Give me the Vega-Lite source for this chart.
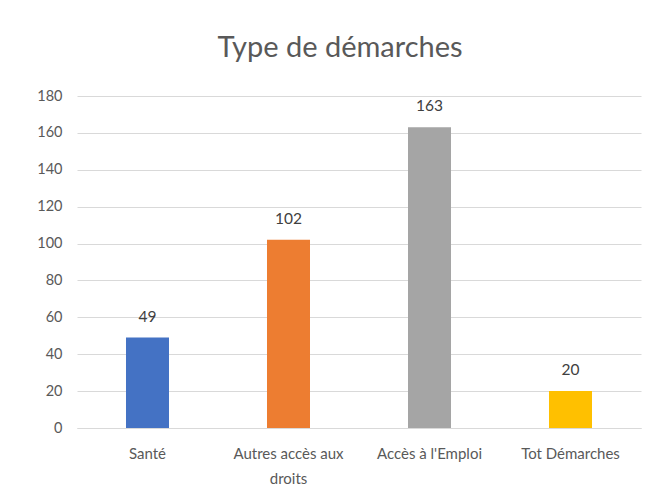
{
  "$schema": "https://vega.github.io/schema/vega-lite/v6.json",
  "autosize": {"type": "none"},
  "width": 564,
  "height": 332,
  "padding": {"left": 77, "top": 96, "right": 12, "bottom": 74},
  "background": "white",
  "config": {
    "view": {"stroke": null},
    "font": "Lato"
  },
  "title": {
    "text": "Type de démarches",
    "fontSize": 29,
    "fontWeight": "normal",
    "color": "#595959",
    "font": "Lato",
    "anchor": "middle",
    "dx": -19,
    "offset": 25
  },
  "data": {
    "values": [
      {"categorie": "Santé", "valeur": 49},
      {"categorie": "Autres accès aux droits", "valeur": 102},
      {"categorie": "Accès à l'Emploi", "valeur": 163},
      {"categorie": "Tot Démarches", "valeur": 20}
    ]
  },
  "encoding": {
    "x": {
      "field": "categorie",
      "type": "nominal",
      "sort": null,
      "scale": {"paddingInner": 0.695, "paddingOuter": 0.3475},
      "axis": {
        "title": null,
        "labelAngle": 0,
        "labelFontSize": 15,
        "labelColor": "#595959",
        "labelPadding": 18,
        "labelLimit": 0,
        "labelLineHeight": 25,
        "labelExpr": "datum.label == 'Autres accès aux droits' ? ['Autres accès aux', 'droits'] : datum.label",
        "ticks": false,
        "domainColor": "#D9D9D9",
        "domainWidth": 1
      }
    },
    "y": {
      "field": "valeur",
      "type": "quantitative",
      "scale": {"domain": [0, 180], "nice": false},
      "axis": {
        "title": null,
        "values": [0, 20, 40, 60, 80, 100, 120, 140, 160, 180],
        "labelFontSize": 14.5,
        "labelColor": "#595959",
        "labelPadding": 15,
        "ticks": false,
        "domain": false,
        "gridColor": "#D9D9D9",
        "gridWidth": 1
      }
    }
  },
  "layer": [
    {
      "mark": {"type": "bar"},
      "encoding": {
        "color": {
          "field": "categorie",
          "type": "nominal",
          "sort": null,
          "scale": {
            "domain": ["Santé", "Autres accès aux droits", "Accès à l'Emploi", "Tot Démarches"],
            "range": ["#4472C4", "#ED7D31", "#A5A5A5", "#FFC000"]
          },
          "legend": null
        }
      }
    },
    {
      "mark": {"type": "text", "baseline": "alphabetic", "dy": -16, "fontSize": 15.5, "color": "#404040"},
      "encoding": {
        "text": {"field": "valeur", "type": "quantitative"}
      }
    }
  ]
}
